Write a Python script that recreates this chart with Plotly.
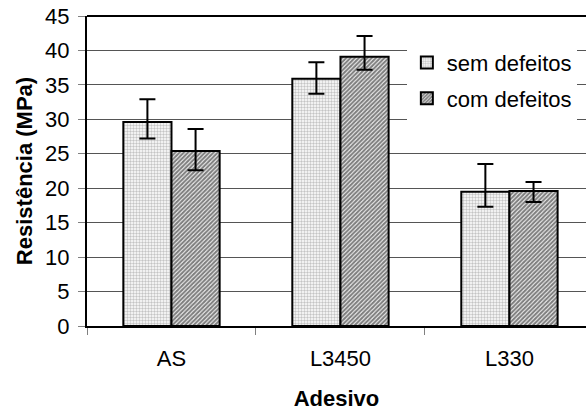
import plotly.graph_objects as go

categories = ["AS", "L3450", "L330"]
series_names = ["sem defeitos", "com defeitos"]
sem_values = [29.6, 35.9, 19.5]
sem_err_plus = [3.3, 2.4, 4.0]
sem_err_minus = [2.4, 2.2, 2.2]
com_values = [25.4, 39.1, 19.6]
com_err_plus = [3.2, 3.0, 1.3]
com_err_minus = [2.8, 1.9, 1.6]
y_ticks = [0, 5, 10, 15, 20, 25, 30, 35, 40, 45]

FONT = "Arial, 'Liberation Sans', sans-serif"

fig = go.Figure()
fig.add_trace(go.Bar(
    x=categories, y=sem_values, name=series_names[0], legendgroup="a",
    marker=dict(color="white", line=dict(color="black", width=2),
                pattern=dict(shape=".", fgcolor="#8a8a8a", bgcolor="white", size=3, solidity=0.5)),
    error_y=dict(type="data", symmetric=False, array=sem_err_plus, arrayminus=sem_err_minus,
                 color="black", thickness=2, width=8),
))
fig.add_trace(go.Bar(
    x=categories, y=com_values, name=series_names[1], legendgroup="b",
    marker=dict(color="white", line=dict(color="black", width=2),
                pattern=dict(shape="/", fgcolor="#000000", bgcolor="white", size=3, solidity=0.7)),
    error_y=dict(type="data", symmetric=False, array=com_err_plus, arrayminus=com_err_minus,
                 color="black", thickness=2, width=8),
))

fig.update_layout(
    width=586, height=413,
    margin=dict(l=87, r=0, t=16, b=87, autoexpand=False),
    paper_bgcolor="white", plot_bgcolor="white",
    barmode="group", bargap=0.43, bargroupgap=0,
    font=dict(family=FONT, size=22, color="black"),
    showlegend=True,
    legend=dict(x=0.641, y=0.917, xanchor="left", yanchor="top",
                bgcolor="white", borderwidth=0, font=dict(size=22),
                itemwidth=30, tracegroupgap=4, traceorder="grouped"),
    xaxis=dict(
        range=[-0.5, 2.453], tickson="boundaries", ticks="outside", ticklen=7,
        tickcolor="#808080", tickwidth=1, automargin=False, ticklabelstandoff=12,
        ticklabeloverflow="allow",
        showline=True, linecolor="black", linewidth=2,
        showgrid=False, zeroline=False,
        title=dict(text="<b>Adesivo</b>", font=dict(size=22), standoff=20),
        tickfont=dict(size=22),
    ),
    yaxis=dict(
        range=[0, 45], tickvals=y_ticks, ticks="outside", ticklen=7,
        tickcolor="#808080", tickwidth=1, automargin=False, ticklabelstandoff=4,
        ticklabeloverflow="allow",
        showline=True, linecolor="black", linewidth=2,
        showgrid=True, gridcolor="#555555", gridwidth=1, zeroline=False,
        title=dict(text="<b>Resistência (MPa)</b>", font=dict(size=22), standoff=6),
        tickfont=dict(size=22),
    ),
)
# top border of plot area
fig.add_shape(type="line", xref="paper", yref="paper", x0=0, x1=1, y0=1, y1=1,
              line=dict(color="black", width=2))

# remove the default 8px page margin so the figure fills the window exactly
fig.write_html("out.html", config={"displayModeBar": False},
               post_script="document.body.style.margin='0';document.body.style.overflow='hidden';")
